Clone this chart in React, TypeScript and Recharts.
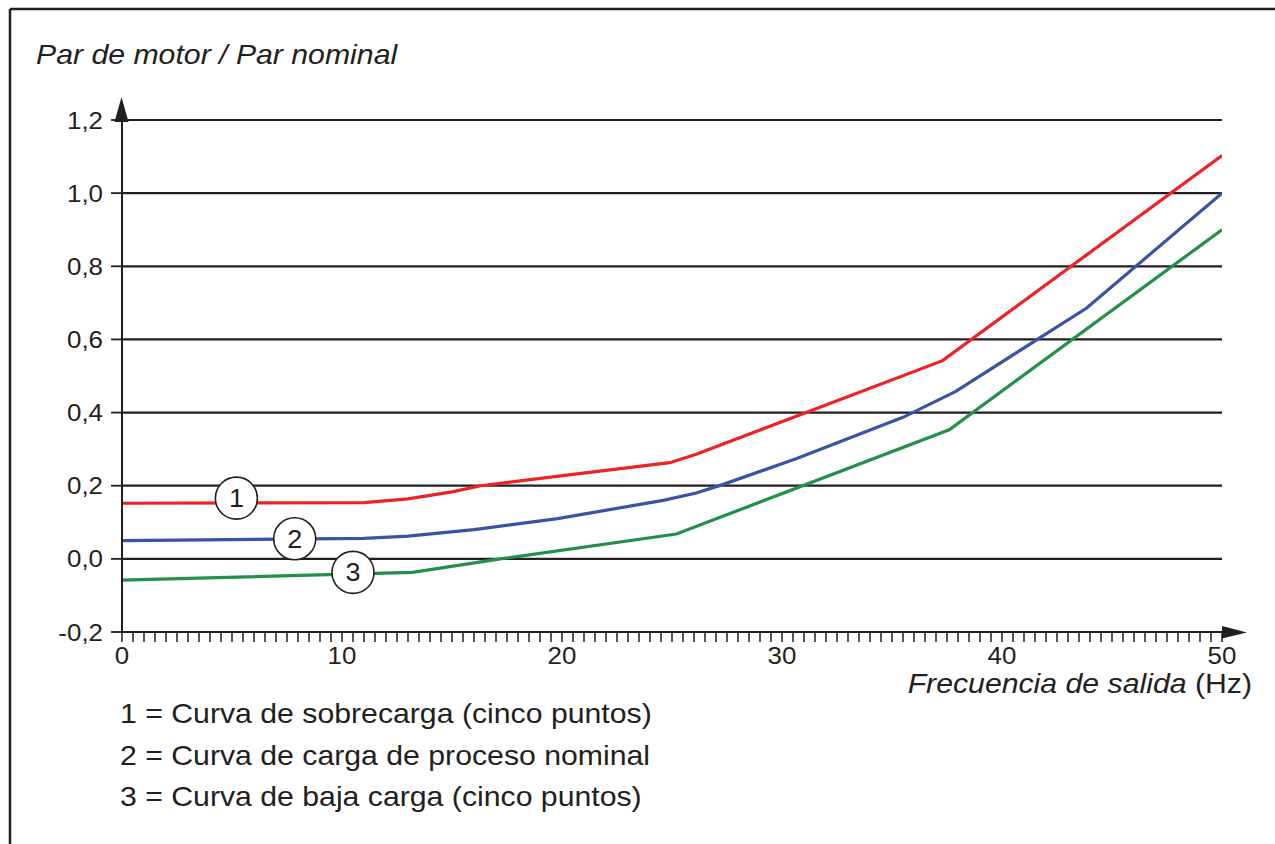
import React from 'react';
import { LineChart, Line, XAxis, YAxis, CartesianGrid, ReferenceDot } from 'recharts';

const INK = '#231f20';
const FONT = '"Liberation Sans", Arial, Helvetica, sans-serif';
const SX = 1.08;

// Curve 1 – overload curve (five points)
const freqOverload = [0, 11, 13, 15, 16.3, 20.5, 24.9, 26.1, 37.3, 50];
const torqueOverload = [0.152, 0.154, 0.164, 0.183, 0.2, 0.231, 0.263, 0.286, 0.542, 1.103];
// Curve 2 – nominal process load curve
const freqNominal = [0, 11, 13, 16, 19.8, 24.6, 26.1, 27.3, 30.7, 35.5, 37.9, 43.85, 50];
const torqueNominal = [0.05, 0.056, 0.062, 0.08, 0.11, 0.16, 0.18, 0.203, 0.275, 0.387, 0.458, 0.686, 1.0];
// Curve 3 – underload curve (five points)
const freqUnderload = [0, 13.2, 17.2, 25.2, 37.6, 50];
const torqueUnderload = [-0.058, -0.037, 0, 0.068, 0.353, 0.9];

// numbered circle markers
const markerLabels = ['1', '2', '3'];
const markerFreq = [5.2, 7.85, 10.5];
const markerTorque = [0.166, 0.055, -0.037];

const yTicks = [-0.2, 0, 0.2, 0.4, 0.6, 0.8, 1.0, 1.2];
const yTickLabels = ['-0,2', '0,0', '0,2', '0,4', '0,6', '0,8', '1,0', '1,2'];
const xMajorTicks = [0, 10, 20, 30, 40, 50];
const xMinorTicks = Array.from({ length: 101 }, (_, i) => i * 0.5);

const legendLines = [
  '1 = Curva de sobrecarga (cinco puntos)',
  '2 = Curva de carga de proceso nominal',
  '3 = Curva de baja carga (cinco puntos)',
];
const titleText = 'Par de motor / Par nominal';
const xLabelItalic = 'Frecuencia de salida';
const xLabelUnit = ' (Hz)';

const toRows = (xs: number[], ys: number[]) => xs.map((f, i) => ({ f, v: ys[i] }));

const XTick = (p: any) => {
  const v = p.payload.value;
  const idx = xMajorTicks.findIndex((t) => Math.abs(t - v) < 1e-6);
  if (idx < 0) return <g />;
  return (
    <g transform={`translate(${p.x},${p.y + 20}) scale(${SX},1)`}>
      <text x={0} y={0} textAnchor="middle" fontSize={24} fill={INK} fontFamily={FONT}>
        {String(xMajorTicks[idx])}
      </text>
    </g>
  );
};

const YTick = (p: any) => {
  const v = p.payload.value;
  const idx = yTicks.findIndex((t) => Math.abs(t - v) < 1e-6);
  return (
    <g transform={`translate(${p.x - 6},${p.y + 8.5}) scale(${SX},1)`}>
      <text x={0} y={0} textAnchor="end" fontSize={24} fill={INK} fontFamily={FONT}>
        {idx >= 0 ? yTickLabels[idx] : ''}
      </text>
    </g>
  );
};

const circleShape = (label: string) => (p: any) => (
  <g>
    <circle cx={p.cx} cy={p.cy} r={21} fill="#fff" stroke={INK} strokeWidth={1.6} />
    <g transform={`translate(${p.cx},${p.cy + 9}) scale(${SX},1)`}>
      <text x={0} y={0} textAnchor="middle" fontSize={25} fill={INK} fontFamily={FONT}>
        {label}
      </text>
    </g>
  </g>
);

const yArrow = (p: any) => (
  <path d={`M${p.cx - 0.5},${p.cy - 23} L${p.cx - 7.5},${p.cy + 2} L${p.cx + 6.5},${p.cy + 2} Z`} fill={INK} />
);
const xArrow = (p: any) => (
  <path d={`M${p.cx},${p.cy - 6} L${p.cx + 25},${p.cy + 0.5} L${p.cx},${p.cy + 6.5} Z`} fill={INK} />
);

export default function App() {
  return (
    <div style={{ position: 'absolute', left: 0, top: 0, width: 1275, height: 844, background: '#fff', overflow: 'hidden' }}>
      <LineChart
        width={1275}
        height={844}
        margin={{ top: 120, right: 53, bottom: 182, left: 62 }}
      >
        <CartesianGrid vertical={false} stroke={INK} strokeWidth={2.2} />
        <XAxis
          type="number"
          dataKey="f"
          domain={[0, 50]}
          ticks={xMinorTicks}
          interval={0}
          height={30}
          tickSize={10}
          axisLine={{ stroke: INK, strokeWidth: 2.2 }}
          tickLine={{ stroke: INK, strokeWidth: 1.5 }}
          tick={<XTick />}
          allowDataOverflow
        />
        <YAxis
          type="number"
          domain={[-0.2, 1.2]}
          ticks={yTicks}
          interval={0}
          width={60}
          tickSize={11}
          axisLine={{ stroke: INK, strokeWidth: 2 }}
          tickLine={{ stroke: INK, strokeWidth: 1.8 }}
          tick={<YTick />}
          allowDataOverflow
        />
        <Line data={toRows(freqOverload, torqueOverload)} dataKey="v" type="linear" stroke="#ec2227" strokeWidth={3.2} dot={false} isAnimationActive={false} />
        <Line data={toRows(freqNominal, torqueNominal)} dataKey="v" type="linear" stroke="#3a53a4" strokeWidth={3.2} dot={false} isAnimationActive={false} />
        <Line data={toRows(freqUnderload, torqueUnderload)} dataKey="v" type="linear" stroke="#23904a" strokeWidth={3.2} dot={false} isAnimationActive={false} />
        {markerLabels.map((lab, i) => (
          <ReferenceDot key={lab} x={markerFreq[i]} y={markerTorque[i]} r={20} ifOverflow="visible" shape={circleShape(lab)} />
        ))}
        <ReferenceDot x={0} y={1.2} r={1} ifOverflow="visible" shape={yArrow} />
        <ReferenceDot x={50} y={-0.2} r={1} ifOverflow="visible" shape={xArrow} />
      </LineChart>
      <svg width={1275} height={844} style={{ position: 'absolute', left: 0, top: 0, pointerEvents: 'none' }}>
        <line x1={10} y1={9} x2={1275} y2={9} stroke={INK} strokeWidth={2.5} />
        <line x1={10} y1={9} x2={10} y2={844} stroke={INK} strokeWidth={2.5} />
        <g transform={`translate(36,64) scale(${SX},1)`}>
          <text x={0} y={0} fontSize={28} fontStyle="italic" fill={INK} fontFamily={FONT}>{titleText}</text>
        </g>
        <g transform={`translate(1252,693) scale(${SX},1)`}>
          <text x={0} y={0} fontSize={28} textAnchor="end" fill={INK} fontFamily={FONT}>
            <tspan fontStyle="italic">{xLabelItalic}</tspan>
            <tspan>{xLabelUnit}</tspan>
          </text>
        </g>
        {legendLines.map((t, i) => (
          <g key={i} transform={`translate(120,${723 + i * 41.5}) scale(${SX},1)`}>
            <text x={0} y={0} fontSize={28} fill={INK} fontFamily={FONT}>{t}</text>
          </g>
        ))}
      </svg>
    </div>
  );
}
